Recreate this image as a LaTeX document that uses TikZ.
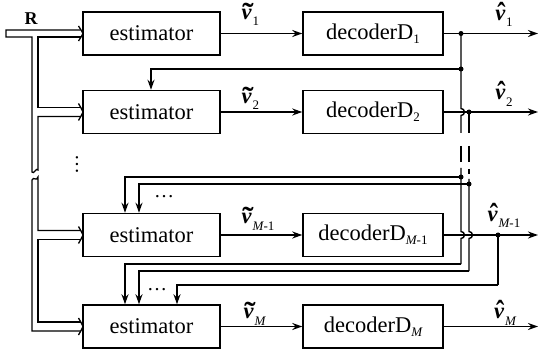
\RequirePackage{fix-cm}
\documentclass[tikz,border=0pt]{standalone}
\usepackage[no-math]{fontspec}
\usepackage{graphicx}
\setmainfont{Liberation Serif}
\usetikzlibrary{arrows.meta}
\newcommand\dsub[1]{\raisebox{-4pt}{\fontsize{13}{13}\selectfont #1}}
\newcommand\vsub[1]{\hspace{1pt}\raisebox{-6pt}{\fontsize{13}{13}\selectfont #1}}
\newcommand\vtil{\ooalign{\bfseries\itshape v\cr\hidewidth\kern2.5pt\raisebox{-3.5pt}{\scalebox{1.5}[1.3]{\bfseries ˜}}\hidewidth\cr}}
\newcommand\vhat{\ooalign{\bfseries\itshape v\cr\hidewidth\kern2.5pt\raisebox{-4pt}{\scalebox{1.1}[1.4]{\bfseries ˆ}}\hidewidth\cr}}
\begin{document}
\begin{tikzpicture}[x=1pt,y=-1pt,line width=1.4pt,
  box/.style={draw,line width=1.5pt,minimum width=137pt,minimum height=43pt,inner sep=0pt,font=\fontsize{22.5}{24}\selectfont},
  dbox/.style={box,minimum width=140pt},
  arr/.style={-{Stealth[length=10pt,width=7pt]}},
  jdot/.style={circle,fill,inner sep=0pt,minimum size=5pt},
  lab/.style={inner sep=0pt,font=\fontsize{22.5}{24}\selectfont},
  bus/.style={line width=1.3pt,line join=miter}]
\useasboundingbox (0,0) rectangle (542,353);
% boxes
\node[box] (e1) at (151.5,33.5) {estimator};
\node[box] (e2) at (151.5,112) {estimator};
\node[box] (e3) at (151.5,235) {estimator};
\node[box] (e4) at (151.5,326.5) {estimator};
\node[dbox] (d1) at (373,33.5) {decoderD\dsub{1}};
\node[dbox] (d2) at (373,112) {decoderD\dsub{2}};
\node[dbox] (d3) at (373,235) {decoderD\dsub{\itshape M\upshape -1}};
\node[dbox] (d4) at (373,326.5) {decoderD\dsub{\itshape M}};
% main arrows
\draw[arr] (e1.east) -- (d1.west);
\draw[arr] (e2.east) -- (d2.west);
\draw[arr] (e3.east) -- (d3.west);
\draw[arr] (e4.east) -- (d4.west);
% labels
\node[lab,anchor=base west] (t1) at (241,20) {\vtil\vsub{1}};
\node[lab,anchor=base west] (t2) at (241,104) {\vtil\vsub{2}};
\node[lab,anchor=base west] (t3) at (241,224) {\vtil\vsub{\itshape M\upshape -1}};
\node[lab,anchor=base west] (t4) at (243,319) {\vtil\vsub{\itshape M}};
\node[lab,anchor=base] (h1) at (504,21) {\vhat\vsub{1}};
\node[lab,anchor=base] (h2) at (504,100) {\vhat\vsub{2}};
\node[lab,anchor=base] (h3) at (504,222) {\vhat\vsub{\itshape M\upshape -1}};
\node[lab,anchor=base] (h4) at (505,319) {\vhat\vsub{\itshape M}};
\node[lab,font=\fontsize{18}{20}\selectfont\bfseries,anchor=base] (R) at (31,25) {R};
% outputs
\coordinate (o1) at (538,33.5);
\coordinate (o2) at (538,112);
\coordinate (o3) at (538,235);
\coordinate (o4) at (538,326.5);
\draw[arr] (d1.east) -- (o1);
\draw[arr] (d2.east) -- (o2);
\draw[arr] (d3.east) -- (o3);
\draw[arr] (d4.east) -- (o4);
% junctions
\node[jdot] (pA1) at (461,33.5) {};
\node[jdot] (pA2) at (461,69) {};
\node[jdot] (pB1) at (469,112) {};
\node[jdot] (pA3) at (461,177) {};
\node[jdot] (pB3) at (469,184) {};
\node[jdot] (pC1) at (498,235) {};
% line A
\draw (pA1.center) -- (pA2.center) -- (461,108.5) .. controls (465.5,108.5) and (465.5,115.5) .. (461,115.5) -- (461,133);
\draw (461,146) -- (461,162);
\draw (461,168) -- (pA3.center) -- (461,231.5) .. controls (465.5,231.5) and (465.5,238.5) .. (461,238.5) -- (461,264) coordinate (a4);
% line B
\draw (pB1.center) -- (469,133);
\draw (469,146) -- (469,162);
\draw (469,169) -- (469,174);
\draw (469,179) -- (pB3.center) -- (469,231.5) .. controls (473.5,231.5) and (473.5,238.5) .. (469,238.5) -- (469,271) coordinate (b4);
% line C
\draw (pC1.center) -- (498,285) coordinate (c4);
% feedback
\coordinate (f2) at (151,69);
\draw[arr] (pA2.center) -- (f2) -- (f2 |- e2.north);
\coordinate (f3a) at (125,177);
\coordinate (f3b) at (139,184);
\draw[arr] (pA3.center) -- (f3a) -- (f3a |- e3.north);
\draw[arr] (pB3.center) -- (f3b) -- (f3b |- e3.north);
\coordinate (f4a) at (125,264);
\coordinate (f4b) at (139,271);
\coordinate (f4c) at (177,285);
\draw[arr] (a4) -- (f4a) -- (f4a |- e4.north);
\draw[arr] (b4) -- (f4b) -- (f4b |- e4.north);
\draw[arr] (c4) -- (f4c) -- (f4c |- e4.north);
% dots
\node[lab,font=\fontsize{20}{20}\selectfont] (el3) at (164,197) {…};
\node[lab,font=\fontsize{20}{20}\selectfont] (el4) at (157,290) {…};
\node[lab,font=\fontsize{20}{20}\selectfont,rotate=-90] (vd) at (77,165) {…};
% bus
\draw[bus] (80.5,30) -- (6,30) -- (6,37) -- (32,37) -- (32,172) .. controls (34,175) and (36,167) .. (38,170) -- (38,116.5) -- (80.5,116.5);
\draw[bus] (80.5,37) -- (38,37) -- (38,107.5) -- (80.5,107.5);
\draw[bus] (80.5,230.5) -- (38,230.5) -- (38,177) .. controls (36.5,182) and (33.5,176) .. (32,180) -- (32,331) -- (80.5,331);
\draw[bus] (80.5,239.5) -- (38,239.5) -- (38,322) -- (80.5,322);
\foreach \t/\b in {30/37,107.5/116.5,230.5/239.5,322/331}{
  \draw[bus] (78.5,\t-4) .. controls (80.5,\t-1) and (82,\t/2+\b/2-2) .. (83,\t/2+\b/2);
  \draw[bus] (78.5,\b+4) .. controls (80.5,\b+1) and (82,\t/2+\b/2+2) .. (83,\t/2+\b/2);
}
\end{tikzpicture}
\end{document}
